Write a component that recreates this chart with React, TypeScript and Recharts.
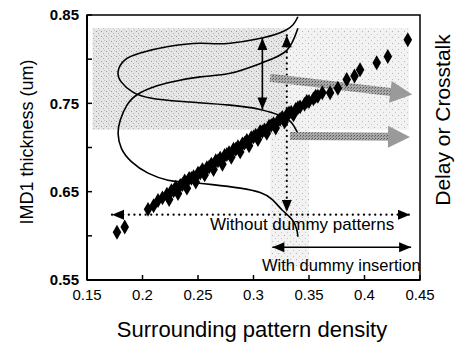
import React from 'react';
import {
  ComposedChart,
  Scatter,
  Line,
  XAxis,
  YAxis,
  ZAxis,
  ReferenceArea,
  ReferenceLine,
} from 'recharts';

// axis ticks
const xTicks = [0.15, 0.2, 0.25, 0.3, 0.35, 0.4, 0.45];
const yTicks = [0.55, 0.6, 0.65, 0.7, 0.75, 0.8, 0.85];
const yLabelled = [0.55, 0.65, 0.75, 0.85];

// measured points: dense band (three overlapping rows)
const bandX = [
  0.21, 0.214, 0.218, 0.222, 0.226, 0.23, 0.234, 0.238, 0.242, 0.246, 0.25, 0.254, 0.258,
  0.262, 0.266, 0.27, 0.274, 0.278, 0.282, 0.286, 0.29, 0.294, 0.298, 0.302, 0.306, 0.31,
  0.314, 0.318, 0.322, 0.326, 0.33, 0.334, 0.338, 0.342, 0.346, 0.35, 0.354, 0.358, 0.362,
  0.224, 0.232, 0.24, 0.248, 0.256, 0.264, 0.272, 0.28, 0.288, 0.296, 0.304, 0.312, 0.32,
  0.328, 0.336,
  0.228, 0.236, 0.244, 0.252, 0.26, 0.268, 0.276, 0.284, 0.292, 0.3, 0.308, 0.316, 0.324,
  0.332, 0.34, 0.348, 0.356,
];
const bandY = [
  0.634, 0.64, 0.643, 0.647, 0.651, 0.655, 0.657, 0.662, 0.665, 0.667, 0.671, 0.675, 0.677,
  0.681, 0.685, 0.688, 0.691, 0.694, 0.698, 0.701, 0.704, 0.708, 0.711, 0.714, 0.718, 0.72,
  0.724, 0.727, 0.73, 0.734, 0.737, 0.74, 0.743, 0.746, 0.749, 0.752, 0.755, 0.758, 0.762,
  0.641, 0.648, 0.654, 0.661, 0.669, 0.675, 0.681, 0.689, 0.695, 0.702, 0.709, 0.716, 0.722,
  0.729, 0.737,
  0.651, 0.658, 0.665, 0.671, 0.678, 0.685, 0.692, 0.698, 0.705, 0.712, 0.718, 0.725, 0.732,
  0.739, 0.745, 0.752, 0.758,
];
// isolated points at both ends
const sparseX = [0.177, 0.184, 0.205, 0.369, 0.376, 0.384, 0.391, 0.396, 0.411, 0.421, 0.439];
const sparseY = [0.604, 0.61, 0.63, 0.762, 0.767, 0.777, 0.781, 0.788, 0.796, 0.803, 0.822];

// distribution curves
const narrowX = [
  0.34, 0.324, 0.279, 0.252, 0.222, 0.198, 0.184, 0.178, 0.181, 0.191, 0.207, 0.236, 0.279,
  0.306, 0.326, 0.335, 0.34,
];
const narrowY = [
  0.848, 0.83, 0.818, 0.818, 0.814, 0.807, 0.799, 0.786, 0.774, 0.763, 0.756, 0.752, 0.748,
  0.743, 0.735, 0.727, 0.716,
];
const wideX = [
  0.34, 0.33, 0.308, 0.279, 0.252, 0.222, 0.198, 0.186, 0.18, 0.178, 0.181, 0.19, 0.205,
  0.223, 0.238, 0.263, 0.288, 0.306, 0.317, 0.326, 0.335, 0.339, 0.34,
];
const wideY = [
  0.835, 0.81, 0.796, 0.784, 0.78, 0.773, 0.762, 0.748, 0.731, 0.716, 0.699, 0.684, 0.671,
  0.663, 0.661, 0.658, 0.654, 0.649, 0.641, 0.629, 0.618, 0.607, 0.599,
];

const zip = (xs: number[], ys: number[]) => xs.map((x, i) => ({ x, y: ys[i] }));
const bandData = zip(bandX, bandY);
const sparseData = zip(sparseX, sparseY);
const narrowData = zip(narrowX, narrowY);
const wideData = zip(wideX, wideY);

const FONT = 'Arial, "Liberation Sans", sans-serif';

const head = (x: number, y: number, ang: number, len: number, w: number, fill: string) => {
  const bx = x - Math.cos(ang) * len;
  const by = y - Math.sin(ang) * len;
  const px = -Math.sin(ang) * w;
  const py = Math.cos(ang) * w;
  return (
    <polygon
      points={`${x},${y} ${bx + px},${by + py} ${bx - px},${by - py}`}
      fill={fill}
      stroke="none"
    />
  );
};

// double-headed arrow, solid or dotted
const arrow = (dotted: boolean) => (p: any) => {
  const { x1, y1, x2, y2 } = p;
  const ang = Math.atan2(y2 - y1, x2 - x1);
  return (
    <g>
      <line
        x1={x1}
        y1={y1}
        x2={x2}
        y2={y2}
        stroke="#000"
        strokeWidth={dotted ? 2.2 : 1.6}
        strokeDasharray={dotted ? '0.1 5.5' : undefined}
        strokeLinecap={dotted ? 'round' : 'butt'}
      />
      {head(x2, y2, ang, 12, 5, '#000')}
      {head(x1, y1, ang + Math.PI, 12, 5, '#000')}
    </g>
  );
};

// thick grey arrow
const greyArrow = (p: any) => {
  const { x1, y1, x2, y2 } = p;
  const ang = Math.atan2(y2 - y1, x2 - x1);
  const ex = x2 - Math.cos(ang) * 20;
  const ey = y2 - Math.sin(ang) * 20;
  return (
    <g>
      <line x1={x1} y1={y1} x2={ex} y2={ey} stroke="url(#hatch)" strokeWidth={8} />
      {head(x2, y2, ang, 22, 11, '#9a9a9a')}
    </g>
  );
};

export default function App() {
  return (
    <div style={{ position: 'absolute', left: 0, top: 0, width: 461, height: 348, background: '#fff', fontFamily: FONT }}>
      <svg width={0} height={0} style={{ position: 'absolute' }}>
        <defs>
          <pattern id="speck" width={5} height={5} patternUnits="userSpaceOnUse">
            <rect width={5} height={5} fill="#e6e6e6" />
            <rect x={1} y={1} width={1} height={1} fill="#9a9a9a" />
            <rect x={3} y={3} width={1} height={1} fill="#b0b0b0" />
            <rect x={4} y={0} width={1} height={1} fill="#c4c4c4" />
          </pattern>
          <pattern id="speckLight" width={6} height={6} patternUnits="userSpaceOnUse">
            <rect width={6} height={6} fill="#f2f2f2" />
            <rect x={2} y={1} width={1} height={1} fill="#b4b4b4" />
            <rect x={5} y={4} width={1} height={1} fill="#c8c8c8" />
          </pattern>
          <pattern id="hatch" width={3} height={3} patternUnits="userSpaceOnUse">
            <rect width={3} height={3} fill="#a8a8a8" />
            <rect x={0} y={0} width={1} height={1} fill="#5a5a5a" />
            <rect x={2} y={1} width={1} height={1} fill="#707070" />
          </pattern>
        </defs>
      </svg>
      <ComposedChart
        width={461}
        height={348}
        margin={{ top: 15, right: 41, left: 37, bottom: 38 }}
      >
        <XAxis
          type="number"
          dataKey="x"
          domain={[0.15, 0.45]}
          ticks={xTicks}
          allowDataOverflow
          tickSize={-5}
          tickMargin={14}
          height={30}
          tick={{ fontSize: 15, fill: '#000', fontFamily: FONT }}
          tickLine={{ stroke: '#000', strokeWidth: 1.5 }}
          axisLine={{ stroke: '#000', strokeWidth: 2 }}
          tickFormatter={(v: number) => String(v)}
        />
        <YAxis
          type="number"
          dataKey="y"
          domain={[0.55, 0.85]}
          ticks={yTicks}
          allowDataOverflow
          tickSize={-5}
          tickMargin={13}
          width={50}
          tick={{ fontSize: 15, fill: '#000', fontWeight: 'bold', fontFamily: FONT }}
          tickLine={{ stroke: '#000', strokeWidth: 1.5 }}
          axisLine={{ stroke: '#000', strokeWidth: 2 }}
          tickFormatter={(v: number) => (yLabelled.some((t) => Math.abs(t - v) < 1e-6) ? v.toFixed(2) : '')}
        />
        <ZAxis zAxisId="band" range={[85, 85]} />
        <ZAxis zAxisId="sparse" range={[60, 60]} />

        {/* shaded regions */}
        <ReferenceArea x1={0.155} x2={0.33} y1={0.72} y2={0.835} fill="url(#speck)" fillOpacity={1} stroke="none" />
        <ReferenceArea x1={0.33} x2={0.44} y1={0.72} y2={0.835} fill="url(#speckLight)" fillOpacity={1} stroke="none" />
        <ReferenceArea x1={0.315} x2={0.35} y1={0.565} y2={0.72} fill="url(#speckLight)" fillOpacity={1} stroke="none" />

        {/* frame */}
        <ReferenceArea x1={0.15} x2={0.45} y1={0.55} y2={0.85} fill="none" stroke="#000" strokeWidth={1.5} />

        <Line
          data={narrowData}
          dataKey="y"
          type="natural"
          stroke="#000"
          strokeWidth={1.6}
          dot={false}
          isAnimationActive={false}
        />
        <Line
          data={wideData}
          dataKey="y"
          type="natural"
          stroke="#000"
          strokeWidth={1.6}
          dot={false}
          isAnimationActive={false}
        />

        {/* annotation arrows */}
        <ReferenceLine segment={[{ x: 0.308, y: 0.824 }, { x: 0.308, y: 0.743 }]} shape={arrow(false)} />
        <ReferenceLine segment={[{ x: 0.33, y: 0.827 }, { x: 0.33, y: 0.627 }]} shape={arrow(true)} />
        <ReferenceLine segment={[{ x: 0.1725, y: 0.624 }, { x: 0.441, y: 0.624 }]} shape={arrow(true)} />
        <ReferenceLine segment={[{ x: 0.317, y: 0.587 }, { x: 0.442, y: 0.587 }]} shape={arrow(false)} />
        <ReferenceLine segment={[{ x: 0.315, y: 0.779 }, { x: 0.443, y: 0.76 }]} shape={greyArrow} />
        <ReferenceLine segment={[{ x: 0.333, y: 0.713 }, { x: 0.441, y: 0.712 }]} shape={greyArrow} />

        <Scatter data={bandData} zAxisId="band" fill="#000" shape="diamond" isAnimationActive={false} />
        <Scatter data={sparseData} zAxisId="sparse" fill="#000" shape="diamond" isAnimationActive={false} />
      </ComposedChart>

      <div style={{ position: 'absolute', left: 210, top: 215, fontSize: 17, lineHeight: '19px', whiteSpace: 'nowrap' }}>
        Without dummy patterns
      </div>
      <div style={{ position: 'absolute', left: 262, top: 256, fontSize: 16.5, lineHeight: '19px', whiteSpace: 'nowrap' }}>
        With dummy insertion
      </div>
      <div
        style={{
          position: 'absolute',
          left: 27,
          top: 142,
          fontSize: 18,
          whiteSpace: 'nowrap',
          transform: 'translate(-50%, -50%) rotate(-90deg)',
        }}
      >
        IMD1 thickness (um)
      </div>
      <div
        style={{
          position: 'absolute',
          left: 443,
          top: 120,
          fontSize: 21,
          whiteSpace: 'nowrap',
          transform: 'translate(-50%, -50%) rotate(-90deg)',
        }}
      >
        Delay or Crosstalk
      </div>
      <div
        style={{
          position: 'absolute',
          left: 252,
          top: 330,
          fontSize: 22,
          whiteSpace: 'nowrap',
          transform: 'translate(-50%, -50%)',
        }}
      >
        Surrounding pattern density
      </div>
    </div>
  );
}
